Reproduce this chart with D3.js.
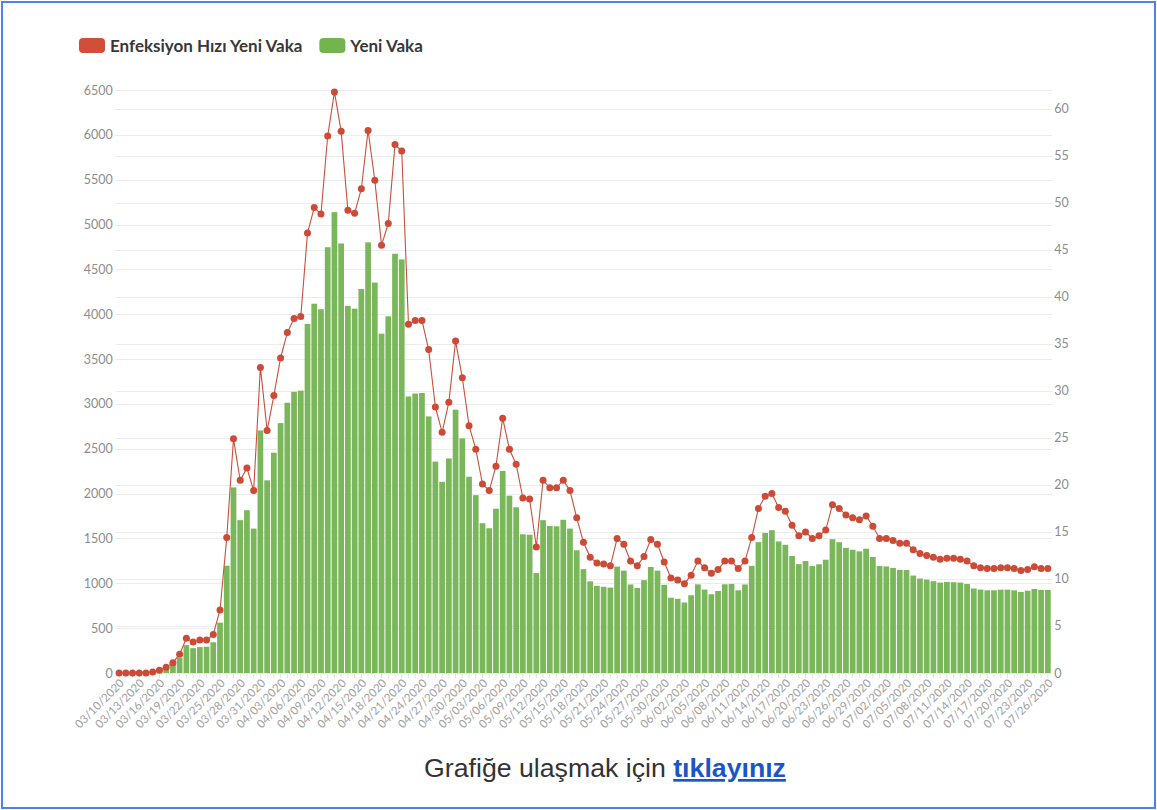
<!DOCTYPE html>
<html lang="tr">
<head>
<meta charset="UTF-8">
<title>Enfeksiyon Hızı</title>
<script src="https://cdn.jsdelivr.net/npm/d3@7"></script>
<style>
  body { margin: 0; background: #fff; }
  svg { display: block; }
</style>
</head>
<body>
<svg id="chart" width="1157" height="810"></svg>
<script>
// Gün aralığı (grafik etiketleri 03/10/2020 - 07/26/2020)
const firstDay = new Date(2020, 2, 10);
const lastDay = new Date(2020, 6, 27);

// Yeni vaka (sol eksen)
const newCases = [
  1, 0, 4, 0, 1, 12, 29, 51, 93, 168, 311, 277, 289, 293, 343, 561, 1196, 2069, 1704, 1815,
  1610, 2704, 2148, 2456, 2786, 3013, 3135, 3148, 3892, 4117, 4056, 4747, 5138, 4789, 4093, 4062, 4281, 4801, 4353, 3783,
  3977, 4674, 4611, 3083, 3116, 3122, 2861, 2357, 2131, 2392, 2936, 2615, 2188, 1983, 1670, 1614, 1832, 2253, 1977, 1848,
  1546, 1542, 1114, 1704, 1639, 1635, 1708, 1610, 1368, 1158, 1022, 972, 961, 952, 1186, 1141, 987, 948, 1035, 1182,
  1141, 983, 839, 827, 786, 867, 988, 930, 878, 914, 989, 993, 922, 987, 1195, 1459, 1562, 1592, 1467, 1429,
  1304, 1214, 1248, 1192, 1212, 1263, 1492, 1458, 1396, 1374, 1356, 1386, 1293, 1192, 1188, 1172, 1150, 1148, 1086, 1053,
  1041, 1024, 1008, 1016, 1012, 1008, 992, 942, 930, 922, 922, 929, 929, 922, 903, 918, 937, 926, 926
];

// Enfeksiyon hızı yeni vaka (sağ eksen)
const infectionRate = [
  0.0, 0.0, 0.0, 0.0, 0.0, 0.1, 0.3, 0.6, 1.1, 2.0, 3.7, 3.3, 3.5, 3.5, 4.1, 6.7, 14.4, 24.9, 20.5, 21.8,
  19.4, 32.5, 25.8, 29.5, 33.5, 36.2, 37.7, 37.9, 46.8, 49.5, 48.8, 57.1, 61.8, 57.6, 49.2, 48.9, 51.5, 57.7, 52.4, 45.5,
  47.8, 56.2, 55.5, 37.1, 37.5, 37.5, 34.4, 28.3, 25.6, 28.8, 35.3, 31.4, 26.3, 23.8, 20.1, 19.4, 22.0, 27.1, 23.8, 22.2,
  18.6, 18.5, 13.4, 20.5, 19.7, 19.7, 20.5, 19.4, 16.5, 13.9, 12.3, 11.7, 11.6, 11.4, 14.3, 13.7, 11.9, 11.4, 12.4, 14.2,
  13.7, 11.8, 10.1, 9.9, 9.5, 10.4, 11.9, 11.2, 10.6, 11.0, 11.9, 11.9, 11.1, 11.9, 14.4, 17.5, 18.8, 19.1, 17.6, 17.2,
  15.7, 14.6, 15.0, 14.3, 14.6, 15.2, 17.9, 17.5, 16.8, 16.5, 16.3, 16.7, 15.6, 14.3, 14.3, 14.1, 13.8, 13.8, 13.1, 12.7,
  12.5, 12.3, 12.1, 12.2, 12.2, 12.1, 11.9, 11.4, 11.2, 11.1, 11.1, 11.2, 11.2, 11.1, 10.9, 11.0, 11.3, 11.1, 11.1
];

const leftTicks = [0, 500, 1000, 1500, 2000, 2500, 3000, 3500, 4000, 4500, 5000, 5500, 6000, 6500];
const rightTicks = [0, 5, 10, 15, 20, 25, 30, 35, 40, 45, 50, 55, 60];
const legendItems = [
  { label: "Enfeksiyon Hızı Yeni Vaka", color: "#cf4f38" },
  { label: "Yeni Vaka", color: "#74b44f" }
];

const fmt = d3.timeFormat("%m/%d/%Y");
const dates = d3.timeDay.range(firstDay, lastDay).map(fmt);

const svg = d3.select("#chart");
const plotLeft = 115.7, plotRight = 1051.2, plotTop = 90, plotBottom = 673;

// dış çerçeve
svg.append("rect")
    .attr("x", 2).attr("y", 2)
    .attr("width", 1153).attr("height", 806)
    .attr("fill", "none")
    .attr("stroke", "#4a86e0")
    .attr("stroke-width", 2);

const x = d3.scaleBand().domain(dates).range([plotLeft, plotRight]).paddingInner(0.15).paddingOuter(0.075);
const yL = d3.scaleLinear().domain([0, 6500]).range([plotBottom, plotTop]);
const yR = d3.scaleLinear().domain([0, 62]).range([plotBottom, plotTop]);

// ızgara çizgileri
svg.append("g")
    .selectAll("line")
    .data(leftTicks)
    .join("line")
    .attr("x1", plotLeft).attr("x2", plotRight + 1)
    .attr("y1", d => Math.round(yL(d)) + 0.5).attr("y2", d => Math.round(yL(d)) + 0.5)
    .attr("stroke", "#ececec");

svg.append("g")
    .selectAll("line")
    .data(rightTicks)
    .join("line")
    .attr("x1", plotLeft).attr("x2", plotRight + 1)
    .attr("y1", d => Math.round(yR(d)) + 0.5).attr("y2", d => Math.round(yR(d)) + 0.5)
    .attr("stroke", "#ececec");

// sol eksen
const leftAxis = svg.append("g")
    .attr("transform", `translate(${plotLeft - 3},0)`)
    .call(d3.axisLeft(yL).tickValues(leftTicks).tickFormat(d3.format("d")).tickSize(0).tickPadding(0));
leftAxis.select(".domain").remove();
leftAxis.selectAll("text")
    .attr("font-family", "Lato, 'Liberation Sans', sans-serif")
    .attr("font-size", 12.5)
    .attr("fill", "#8c8c8c");

// sağ eksen
const rightAxis = svg.append("g")
    .attr("transform", `translate(${plotRight + 3},0)`)
    .call(d3.axisRight(yR).tickValues(rightTicks).tickSize(0).tickPadding(0));
rightAxis.select(".domain").remove();
rightAxis.selectAll("text")
    .attr("font-family", "Lato, 'Liberation Sans', sans-serif")
    .attr("font-size", 12.5)
    .attr("fill", "#8c8c8c");

// çubuklar
svg.append("g")
    .selectAll("rect")
    .data(newCases)
    .join("rect")
    .attr("x", (d, i) => x(dates[i]))
    .attr("width", x.bandwidth())
    .attr("y", d => yL(d))
    .attr("height", d => yL(0) - yL(d))
    .attr("fill", "#7ab65a");

// alt eksen
const xAxis = svg.append("g")
    .attr("transform", `translate(0,${plotBottom + 1})`)
    .call(d3.axisBottom(x)
        .tickSize(4)
        .tickFormat((d, i) => i % 3 === 0 ? d : ""));
xAxis.select(".domain").remove();
xAxis.selectAll(".tick line").attr("stroke", "#e2e2e2");
xAxis.selectAll("text")
    .attr("font-family", "Lato, 'Liberation Sans', sans-serif")
    .attr("font-size", 11.5)
    .attr("fill", "#a0a0a0")
    .attr("text-anchor", "end")
    .attr("dx", "0.1em")
    .attr("dy", "0.35em")
    .attr("transform", "rotate(-45) translate(-4,0)");

// enfeksiyon hızı çizgisi
const cx = (d, i) => x(dates[i]) + x.bandwidth() / 2;
svg.append("path")
    .datum(infectionRate)
    .attr("fill", "none")
    .attr("stroke", "#c9503c")
    .attr("stroke-width", 1.1)
    .attr("d", d3.line().x(cx).y(d => yR(d)));

svg.append("g")
    .selectAll("circle")
    .data(infectionRate)
    .join("circle")
    .attr("cx", cx)
    .attr("cy", d => yR(d))
    .attr("r", 3.5)
    .attr("fill", "#cc4a36");

// lejant
const legend = svg.append("g").attr("transform", "translate(79,38)");
let lx = 0;
legendItems.forEach(item => {
    const g = legend.append("g").attr("transform", `translate(${lx},0)`);
    g.append("rect")
        .attr("width", 26).attr("height", 15)
        .attr("rx", 4)
        .attr("fill", item.color);
    const t = g.append("text")
        .attr("x", 31).attr("y", 14)
        .attr("font-family", "Lato, 'Liberation Sans', sans-serif")
        .attr("font-weight", "bold")
        .attr("font-size", 17)
        .attr("fill", "#383838")
        .text(item.label);
    lx += 31 + t.node().getComputedTextLength() + 17;
});

// alt yazı
const foot = svg.append("text")
    .attr("x", 605).attr("y", 777)
    .attr("text-anchor", "middle")
    .attr("font-family", "'Liberation Sans', Arial, sans-serif")
    .attr("font-size", 26.7)
    .attr("fill", "#333");
foot.append("tspan").text("Grafiğe ulaşmak için ");
foot.append("tspan")
    .attr("font-weight", "bold")
    .attr("fill", "#1a56c8")
    .style("text-decoration", "underline")
    .text("tıklayınız");
</script>
</body>
</html>
